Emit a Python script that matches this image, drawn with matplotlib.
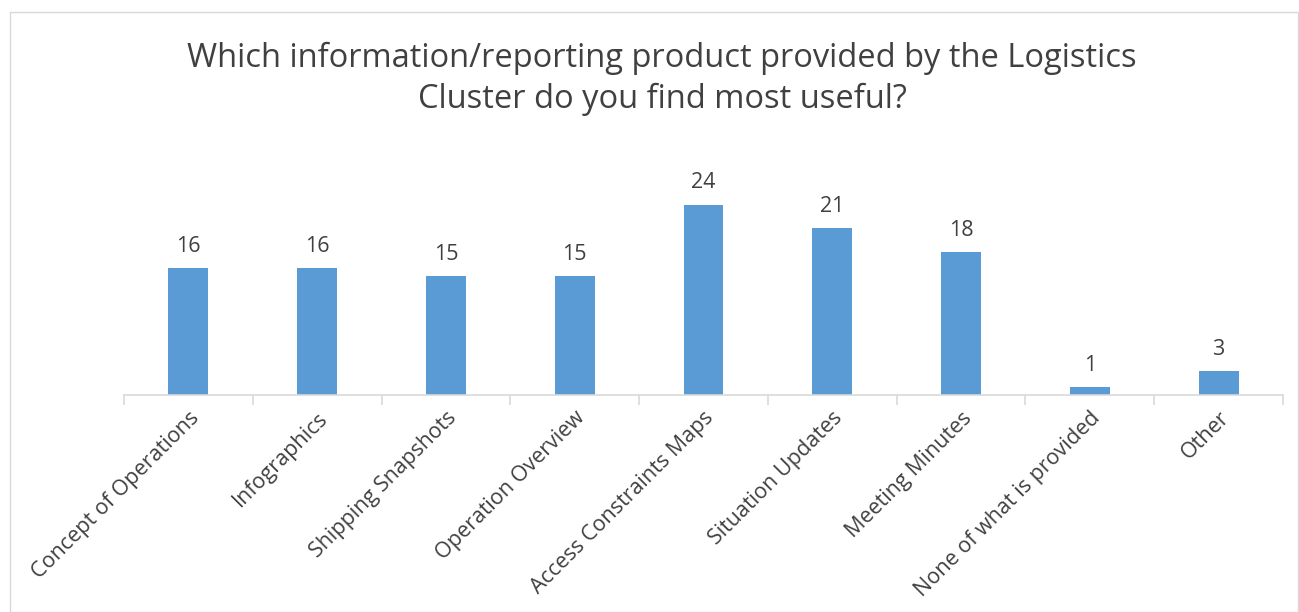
import matplotlib.pyplot as plt
import numpy as np

categories = ["Concept of Operations", "Infographics", "Shipping Snapshots",
              "Operation Overview", "Access Constraints Maps", "Situation Updates",
              "Meeting Minutes", "None of what is provided", "Other"]
values = [16, 16, 15, 15, 24, 21, 18, 1, 3]
title = "Which information/reporting product provided by the Logistics\nCluster do you find most useful?"

plt.rcParams['font.family'] = ['Open Sans', 'DejaVu Sans']
W, H = 1299, 612
fig = plt.figure(figsize=(W/100, H/100), dpi=100)
fig.patches.append(plt.Rectangle((10/W, 1-612/H), (1298-10)/W, (612-12)/H,
                                 transform=fig.transFigure, fill=False,
                                 edgecolor='#D9D9D9', linewidth=1))

x0, x1, ybase, ytop = 124, 1283, 395, 157
ax = fig.add_axes([x0/W, 1-ybase/H, (x1-x0)/W, (ybase-ytop)/H])
x = np.arange(len(categories))
ax.bar(x, values, width=0.31, color='#5B9BD5', zorder=2)
ax.set_xlim(-0.5, len(categories)-0.5)
ax.set_ylim(0, 30)
for xi, v in zip(x, values):
    ax.text(xi, v + 1.4, str(v), ha='center', va='bottom', fontsize=15.5, color='#404040')

for s in ['top', 'right', 'left']:
    ax.spines[s].set_visible(False)
ax.spines['bottom'].set_color('#D9D9D9')
ax.spines['bottom'].set_linewidth(1.2)
ax.set_yticks([])
ax.set_xticks(np.arange(len(categories)+1)-0.5)
ax.set_xticklabels([])
ax.tick_params(axis='x', length=7, color='#D9D9D9', width=1.2)
ax.set_xticks(x, minor=True)
ax.set_xticklabels(categories, minor=True, rotation=45, ha='right',
                   rotation_mode='anchor', fontsize=15.5, color='#404040')
ax.tick_params(axis='x', which='minor', length=0, pad=9)

fig.text(662/W, 1-79/H, title, ha='center', va='center', fontsize=23.5,
         color='#404040', linespacing=1.33)

fig.savefig('out.png', dpi=100)
